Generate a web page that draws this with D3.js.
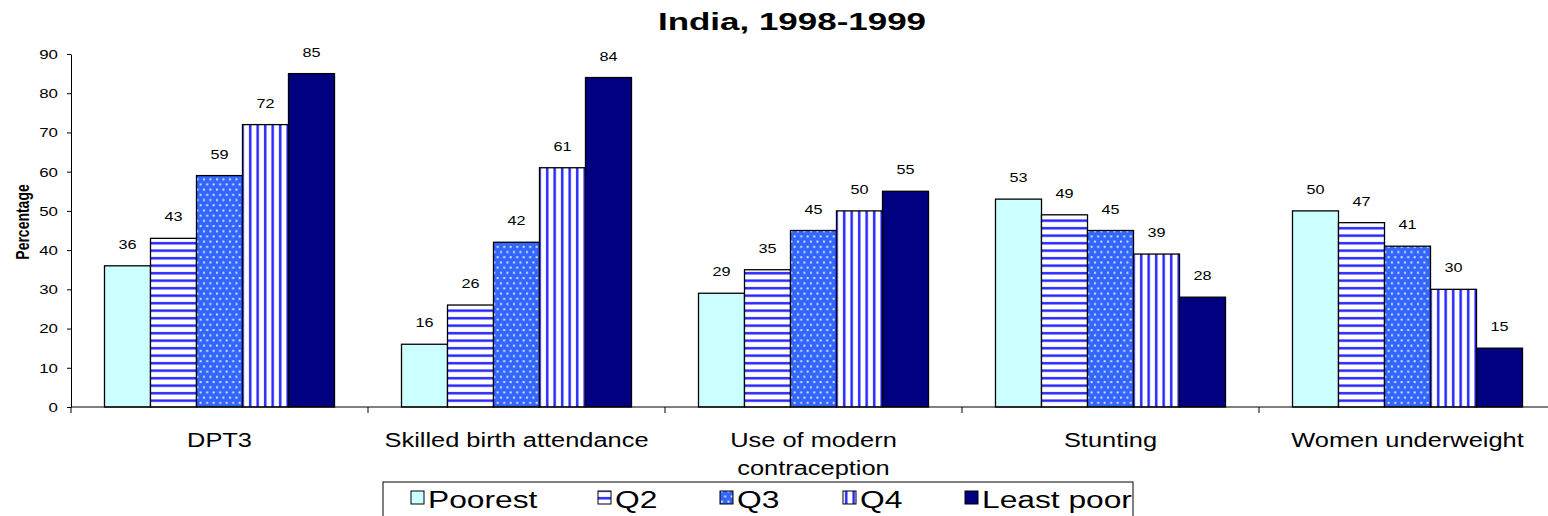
<!DOCTYPE html>
<html>
<head>
<meta charset="utf-8">
<script src="https://cdn.jsdelivr.net/npm/d3@7"></script>
<style>
    body { margin: 0; background: #fff; }
    text { font-family: "Liberation Sans", Arial, sans-serif; fill: #000; }
</style>
</head>
<body>
<script>
// chart values
var categories = ["DPT3", "Skilled birth attendance", "Use of modern\ncontraception", "Stunting", "Women underweight"];
var quintiles = ["Poorest", "Q2", "Q3", "Q4", "Least poor"];
var poorest = [36, 16, 29, 53, 50];
var q2 = [43, 26, 35, 49, 47];
var q3 = [59, 42, 45, 45, 41];
var q4 = [72, 61, 50, 39, 30];
var leastPoor = [85, 84, 55, 28, 15];
var yTicks = [0, 10, 20, 30, 40, 50, 60, 70, 80, 90];

var series = [poorest, q2, q3, q4, leastPoor];

var W = 1548, H = 516;
// the original picture is stretched sideways, so text is widened a bit
var sx = 1.3;

var svg = d3.select("body").append("svg")
    .attr("width", W)
    .attr("height", H);

// patterns for the quintile fills
var defs = svg.append("defs");

var hs = defs.append("pattern").attr("id", "hstripe")
    .attr("patternUnits", "userSpaceOnUse")
    .attr("width", 8).attr("height", 7.5);
hs.append("rect").attr("width", 8).attr("height", 7.5).attr("fill", "#fff");
hs.append("rect").attr("y", 2).attr("width", 8).attr("height", 2.4).attr("fill", "#1f1fff");

var vs = defs.append("pattern").attr("id", "vstripe")
    .attr("patternUnits", "userSpaceOnUse")
    .attr("width", 7.5).attr("height", 8);
vs.append("rect").attr("width", 7.5).attr("height", 8).attr("fill", "#fff");
vs.append("rect").attr("x", 2).attr("width", 2.4).attr("height", 8).attr("fill", "#1f1fff");

var dt = defs.append("pattern").attr("id", "dots")
    .attr("patternUnits", "userSpaceOnUse")
    .attr("width", 6.5).attr("height", 10.4);
dt.append("rect").attr("width", 6.5).attr("height", 10.4).attr("fill", "#3366ff");
dt.append("rect").attr("x", 1).attr("y", 1.5).attr("width", 1.9).attr("height", 1.9)
    .attr("fill", "#e6ecff");
dt.append("rect").attr("x", 4.25).attr("y", 6.7).attr("width", 1.9).attr("height", 1.9)
    .attr("fill", "#e6ecff");

var fills = ["#ccffff", "url(#hstripe)", "url(#dots)", "url(#vstripe)", "#000080"];

// scales
var plotLeft = 71, plotRight = 1556, plotTop = 54, plotBottom = 407;

var x0 = d3.scaleBand()
    .domain(categories)
    .range([plotLeft, plotRight])
    .padding(0);

var groupWidth = 230;
var x1 = d3.scaleBand()
    .domain(quintiles)
    .range([0, groupWidth])
    .padding(0);

var y = d3.scaleLinear()
    .domain([0, 90])
    .range([plotBottom, plotTop]);

// bars
var groups = svg.selectAll("g.cat")
    .data(categories)
    .enter().append("g")
    .attr("class", "cat")
    .attr("transform", function (d) {
        return "translate(" + (x0(d) + (x0.bandwidth() - groupWidth) / 2) + ",0)";
    });

groups.selectAll("rect")
    .data(function (d, ci) {
        return quintiles.map(function (q, qi) {
            return {q: q, qi: qi, v: series[qi][ci]};
        });
    })
    .enter().append("rect")
    .attr("x", function (d) { return x1(d.q); })
    .attr("y", function (d) { return y(d.v); })
    .attr("width", x1.bandwidth())
    .attr("height", function (d) { return plotBottom - y(d.v); })
    .attr("fill", function (d) { return fills[d.qi]; })
    .attr("stroke", "#000")
    .attr("stroke-width", 1.3);

// value labels
groups.selectAll("text.val")
    .data(function (d, ci) {
        return quintiles.map(function (q, qi) {
            return {q: q, v: series[qi][ci]};
        });
    })
    .enter().append("text")
    .attr("class", "val")
    .attr("text-anchor", "middle")
    .style("font-size", "12.5px")
    .attr("transform", function (d) {
        return "translate(" + (x1(d.q) + x1.bandwidth() / 2) + "," + (y(d.v) - 17) + ") scale(" + sx + ",1)";
    })
    .text(function (d) { return d.v; });

// y axis
var yAxis = svg.append("g")
    .attr("transform", "translate(" + plotLeft + ",0)")
    .call(d3.axisLeft(y).tickValues(yTicks).tickSize(4).tickSizeOuter(0));
yAxis.select(".domain").attr("stroke", "#000");
yAxis.selectAll(".tick line").attr("stroke", "#000");
yAxis.selectAll(".tick text")
    .attr("x", 0)
    .attr("dy", "0.35em")
    .attr("transform", "translate(-13,0) scale(1.35,1)")
    .style("font-size", "12.5px")
    .style("font-family", "Liberation Sans, Arial, sans-serif")
    .attr("fill", "#000");

// x axis line and category ticks
svg.append("line")
    .attr("x1", plotLeft).attr("x2", W)
    .attr("y1", plotBottom).attr("y2", plotBottom)
    .attr("stroke", "#000");

svg.selectAll("line.ctick")
    .data(categories)
    .enter().append("line")
    .attr("class", "ctick")
    .attr("x1", function (d) { return x0(d); })
    .attr("x2", function (d) { return x0(d); })
    .attr("y1", plotBottom).attr("y2", plotBottom + 6)
    .attr("stroke", "#000");

// category labels
var catLabels = svg.selectAll("text.cat")
    .data(categories)
    .enter().append("text")
    .attr("class", "cat")
    .attr("text-anchor", "middle")
    .style("font-size", "20px")
    .attr("transform", function (d) {
        return "translate(" + (x0(d) + x0.bandwidth() / 2) + ",447) scale(1.27,1)";
    });
catLabels.selectAll("tspan")
    .data(function (d) { return d.split("\n"); })
    .enter().append("tspan")
    .attr("x", 0)
    .attr("dy", function (d, i) { return i === 0 ? 0 : 28; })
    .text(function (d) { return d; });

// y axis title
svg.append("text")
    .attr("text-anchor", "middle")
    .style("font-size", "14px")
    .style("font-weight", "bold")
    .attr("transform", "translate(29,222) scale(" + sx + ",1) rotate(-90)")
    .text("Percentage");

// title
svg.append("text")
    .attr("text-anchor", "middle")
    .style("font-size", "23px")
    .style("font-weight", "bold")
    .attr("transform", "translate(792,30) scale(1.52,1)")
    .text("India, 1998-1999");

// legend
var legendX = [411, 598, 720, 843, 965];
svg.append("rect")
    .attr("x", 383).attr("y", 482)
    .attr("width", 750).attr("height", 40)
    .attr("fill", "#fff")
    .attr("stroke", "#000");

var legend = svg.selectAll("g.leg")
    .data(quintiles)
    .enter().append("g")
    .attr("class", "leg")
    .attr("transform", function (d, i) { return "translate(" + legendX[i] + ",0)"; });

legend.append("rect")
    .attr("x", 0).attr("y", 491)
    .attr("width", 13).attr("height", 13)
    .attr("fill", function (d, i) { return fills[i]; })
    .attr("stroke", "#000");

legend.append("text")
    .style("font-size", "23px")
    .attr("transform", "translate(17,508) scale(1.38,1)")
    .text(function (d) { return d; });
</script>
</body>
</html>
